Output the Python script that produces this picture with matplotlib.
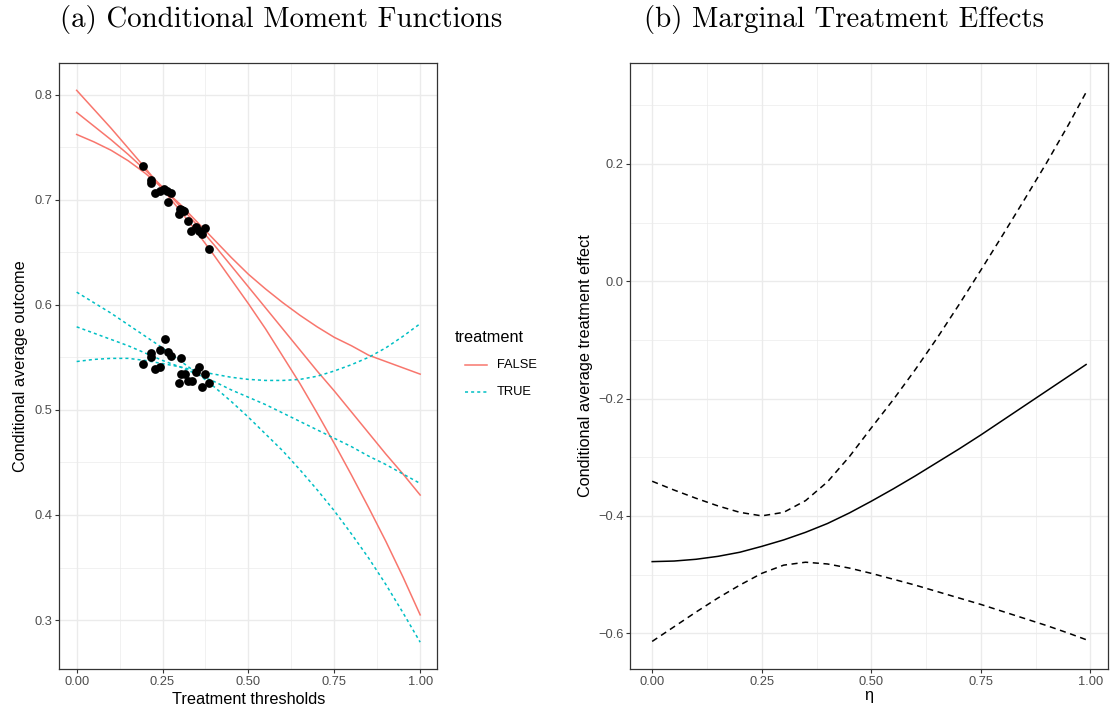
import matplotlib
matplotlib.use("Agg")
import matplotlib.pyplot as plt
from matplotlib.lines import Line2D
from matplotlib.ticker import FixedLocator

# ---- data ----
# (a) conditional moment functions, evaluated on a grid of thresholds
thresholds = [0.00, 0.05, 0.10, 0.15, 0.20, 0.25, 0.30, 0.35, 0.40, 0.45, 0.50,
              0.55, 0.60, 0.65, 0.70, 0.75, 0.80, 0.85, 0.90, 0.95, 1.00]
false_a = [0.804, 0.786, 0.768, 0.749, 0.730, 0.710, 0.690, 0.669, 0.647, 0.624, 0.601,
           0.577, 0.551, 0.525, 0.497, 0.468, 0.438, 0.407, 0.375, 0.341, 0.305]
false_b = [0.783, 0.770, 0.757, 0.743, 0.728, 0.712, 0.694, 0.676, 0.657, 0.637, 0.617,
           0.597, 0.577, 0.557, 0.537, 0.518, 0.498, 0.478, 0.458, 0.439, 0.419]
false_c = [0.762, 0.755, 0.747, 0.737, 0.725, 0.711, 0.696, 0.679, 0.662, 0.645, 0.629,
           0.615, 0.602, 0.590, 0.579, 0.569, 0.561, 0.552, 0.546, 0.540, 0.534]
true_a = [0.612, 0.602, 0.592, 0.581, 0.570, 0.559, 0.547, 0.535, 0.522, 0.508, 0.493,
          0.477, 0.461, 0.443, 0.424, 0.404, 0.382, 0.359, 0.334, 0.307, 0.279]
true_b = [0.579, 0.573, 0.567, 0.561, 0.554, 0.547, 0.541, 0.534, 0.527, 0.519, 0.512,
          0.505, 0.497, 0.489, 0.481, 0.473, 0.465, 0.456, 0.448, 0.439, 0.430]
true_c = [0.546, 0.548, 0.549, 0.549, 0.547, 0.544, 0.541, 0.537, 0.534, 0.531, 0.529,
          0.528, 0.528, 0.529, 0.532, 0.537, 0.543, 0.550, 0.559, 0.570, 0.582]

# observed moments (black points)
obs_x_false = [0.194, 0.215, 0.217, 0.227, 0.244, 0.254, 0.262, 0.275, 0.265, 0.302,
               0.312, 0.299, 0.324, 0.347, 0.375, 0.333, 0.355, 0.364, 0.384, 0.307]
obs_y_false = [0.732, 0.719, 0.716, 0.706, 0.708, 0.710, 0.708, 0.706, 0.698, 0.691,
               0.689, 0.686, 0.680, 0.674, 0.673, 0.670, 0.670, 0.667, 0.653, 0.690]
obs_x_true = [0.194, 0.215, 0.215, 0.227, 0.244, 0.244, 0.257, 0.265, 0.275, 0.304,
              0.304, 0.316, 0.299, 0.324, 0.335, 0.347, 0.357, 0.374, 0.364, 0.384]
obs_y_true = [0.544, 0.554, 0.550, 0.539, 0.541, 0.557, 0.567, 0.555, 0.551, 0.549,
              0.534, 0.534, 0.526, 0.527, 0.527, 0.536, 0.541, 0.534, 0.522, 0.526]

# (b) marginal treatment effects with bounds
eta = [0.00, 0.05, 0.10, 0.15, 0.20, 0.25, 0.30, 0.35, 0.40, 0.45, 0.50,
       0.55, 0.60, 0.65, 0.70, 0.75, 0.80, 0.85, 0.90, 0.95, 0.99]
mte = [-0.478, -0.477, -0.474, -0.469, -0.462, -0.452, -0.441, -0.428, -0.413, -0.395, -0.375,
       -0.354, -0.332, -0.309, -0.286, -0.262, -0.237, -0.212, -0.187, -0.162, -0.142]
mte_upper = [-0.341, -0.356, -0.370, -0.383, -0.394, -0.400, -0.394, -0.374, -0.342, -0.299, -0.250,
             -0.202, -0.151, -0.097, -0.040, 0.019, 0.079, 0.140, 0.202, 0.267, 0.322]
mte_lower = [-0.614, -0.589, -0.564, -0.540, -0.518, -0.498, -0.484, -0.479, -0.482, -0.489, -0.498,
             -0.508, -0.518, -0.529, -0.540, -0.551, -0.563, -0.575, -0.587, -0.600, -0.611]

legend_title = "treatment"
legend_labels = ["FALSE", "TRUE"]

RED = "#F8766D"
CYAN = "#00BFC4"
GRID = "#EBEBEB"
TICK = "#4D4D4D"
SANS = ["Liberation Sans", "DejaVu Sans"]
SERIF = ["cmr10", "DejaVu Serif"]
W, H = 1110, 711


def style_axes(ax, xminor, yminor):
    ax.set_facecolor("white")
    ax.xaxis.set_minor_locator(FixedLocator(xminor))
    ax.yaxis.set_minor_locator(FixedLocator(yminor))
    ax.grid(which="major", color=GRID, linewidth=1.0, zorder=0)
    ax.grid(which="minor", color=GRID, linewidth=0.5, zorder=0)
    ax.set_axisbelow(True)
    for sp in ax.spines.values():
        sp.set_color("#333333")
        sp.set_linewidth(0.9)
    ax.tick_params(which="major", length=3, width=0.8, color="#333333",
                   labelcolor=TICK, labelsize=9.3, pad=2)
    ax.tick_params(which="minor", length=0)
    for lab in ax.get_xticklabels() + ax.get_yticklabels():
        lab.set_family(SANS)


fig = plt.figure(figsize=(W / 100, H / 100), dpi=100)
ax1 = fig.add_axes([0.0536, 0.0591, 0.3404, 0.8523])
ax2 = fig.add_axes([0.568, 0.0591, 0.430, 0.8523])

# ---- panel (a) ----
for ys in (false_a, false_b, false_c):
    ax1.plot(thresholds, ys, color=RED, linewidth=1.1, zorder=3)
for ys in (true_a, true_b, true_c):
    ax1.plot(thresholds, ys, color=CYAN, linewidth=1.1, linestyle=(0, (2, 2)), zorder=3)
ax1.scatter(obs_x_false, obs_y_false, s=40, color="black", zorder=4, linewidths=0)
ax1.scatter(obs_x_true, obs_y_true, s=40, color="black", zorder=4, linewidths=0)

ax1.set_xlim(-0.05, 1.05)
ax1.set_ylim(0.2535, 0.830)
ax1.set_xticks([0, 0.25, 0.5, 0.75, 1.0])
ax1.set_xticklabels(["0.00", "0.25", "0.50", "0.75", "1.00"])
ax1.set_yticks([0.3, 0.4, 0.5, 0.6, 0.7, 0.8])
ax1.set_yticklabels(["0.3", "0.4", "0.5", "0.6", "0.7", "0.8"])
style_axes(ax1, [0.125, 0.375, 0.625, 0.875], [0.25, 0.35, 0.45, 0.55, 0.65, 0.75])
ax1.set_xlabel("Treatment thresholds", family=SANS, fontsize=11.7, labelpad=3)
ax1.set_ylabel("Conditional average outcome", family=SANS, fontsize=11.7)
ax1.yaxis.set_label_coords(-0.084, 0.5)

# legend drawn by hand so the keys sit indented under the title
fig.text(455 / W, 1 - 337 / H, legend_title, family=SANS, fontsize=11.7,
         ha="left", va="center")
key_styles = [dict(color=RED, linewidth=1.1),
              dict(color=CYAN, linewidth=1.1, linestyle=(0, (2, 2)))]
for i, (lab, st) in enumerate(zip(legend_labels, key_styles)):
    yk = 1 - (365 + 27 * i) / H
    fig.add_artist(Line2D([465 / W, 487 / W], [yk, yk], transform=fig.transFigure, **st))
    fig.text(497 / W, yk, lab, family=SANS, fontsize=9.3, ha="left", va="center")

# ---- panel (b) ----
ax2.plot(eta, mte, color="black", linewidth=1.1, zorder=3)
ax2.plot(eta, mte_upper, color="black", linewidth=1.1, linestyle=(0, (4, 3)), zorder=3)
ax2.plot(eta, mte_lower, color="black", linewidth=1.1, linestyle=(0, (4, 3)), zorder=3)

ax2.set_xlim(-0.0495, 1.0395)
ax2.set_ylim(-0.661, 0.372)
ax2.set_xticks([0, 0.25, 0.5, 0.75, 1.0])
ax2.set_xticklabels(["0.00", "0.25", "0.50", "0.75", "1.00"])
ax2.set_yticks([-0.6, -0.4, -0.2, 0.0, 0.2])
ax2.set_yticklabels(["\u22120.6", "\u22120.4", "\u22120.2", "0.0", "0.2"])
style_axes(ax2, [0.125, 0.375, 0.625, 0.875], [-0.5, -0.3, -0.1, 0.1, 0.3])
ax2.set_xlabel("\u03b7", family=SANS, fontsize=11.7, labelpad=0)
ax2.set_ylabel("Conditional average treatment effect", family=SANS, fontsize=11.7)
ax2.yaxis.set_label_coords(-0.079, 0.5)

# subfigure captions
fig.text(281 / W, 1 - 20 / H, "(a) Conditional Moment Functions", family=SERIF,
         fontsize=20.8, ha="center", va="center")
fig.text(844 / W, 1 - 20 / H, "(b) Marginal Treatment Effects", family=SERIF,
         fontsize=20.8, ha="center", va="center")

fig.savefig("out.png", dpi=100)
